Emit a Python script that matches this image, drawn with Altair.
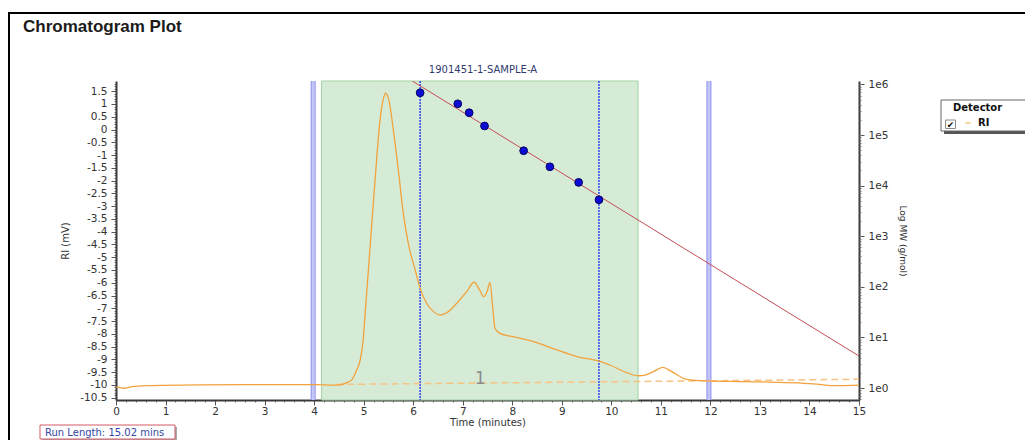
import altair as alt
import pandas as pd

# ---------------- data ----------------
time_min = [0.00, 0.18, 0.32, 0.62, 1.70, 3.04, 4.05, 4.39, 4.52, 4.66, 4.76, 4.84,
            4.93, 4.99, 5.03, 5.13, 5.23, 5.33, 5.40, 5.44, 5.50, 5.60, 5.70, 5.80,
            5.90, 6.04, 6.14, 6.27, 6.41, 6.54, 6.71, 6.88, 7.08, 7.23, 7.34, 7.42,
            7.49, 7.55, 7.61, 7.65, 7.75, 8.02, 8.43, 8.90, 9.30, 9.74, 9.97, 10.31,
            10.54, 10.68, 10.85, 11.04, 11.22, 11.52, 11.93, 12.73, 14.08, 14.48, 15.00]
ri_mv = [-10.09, -10.13, -10.07, -10.03, -10.00, -9.99, -9.99, -10.01, -10.00, -9.91, -9.80, -9.50,
         -9.02, -8.24, -7.19, -4.59, -1.98, 0.37, 1.22, 1.42, 1.22, -0.02, -1.59, -3.28,
         -4.45, -5.50, -6.22, -6.80, -7.13, -7.26, -7.13, -6.80, -6.35, -5.98, -6.28, -6.54,
         -6.35, -5.99, -7.06, -7.78, -7.98, -8.11, -8.30, -8.63, -8.89, -9.06, -9.22, -9.52,
         -9.64, -9.62, -9.48, -9.31, -9.48, -9.78, -9.84, -9.87, -9.96, -10.03, -10.01]
detector = ["RI"]

baseline_t = [4.45, 15.00]
baseline_mv = [-9.98, -9.78]

peak_label = ["1"]
peak_label_t = [7.35]
peak_label_mv = [-9.77]

cal_t = [6.14, 6.90, 7.13, 7.44, 8.23, 8.76, 9.34, 9.75]
cal_mw = [6.85e5, 4.15e5, 2.76e5, 1.51e5, 4.9e4, 2.36e4, 1.16e4, 5.26e3]

fit_t = [5.98, 15.00]
fit_mw = [1.17e6, 4.29]

region_start = [4.15]
region_end = [10.54]
marker_t = [3.98, 11.97]
limit_t = [6.14, 9.75]

x_major = list(range(0, 16))
x_minor = [round(i * 0.2, 1) for i in range(76)]
y_major = [round(-10.5 + 0.5 * i, 1) for i in range(25)]
y_minor = [round(-10.5 + 0.1 * i, 1) for i in range(124)]
mw_major = [10 ** e for e in range(0, 7)]
mw_minor = [k * 10 ** e if e >= 0 else round(k * 10 ** e, 3)
            for e in range(-1, 7) for k in range(1, 10)
            if 0.58 <= k * 10 ** e <= 1.17e6]

chart_title = "Chromatogram Plot"
sample_name = "1901451-1-SAMPLE-A"
run_length = "Run Length: 15.02 mins"

# ---------------- layout ----------------
W, H = 743, 319
FONT = "DejaVu Sans"

xs = alt.Scale(domain=[0, 15], nice=False, zero=False)
ys = alt.Scale(domain=[-10.59, 1.90], nice=False, zero=False)
ms = alt.Scale(type="log", domain=[0.58, 1.17e6], nice=False)

common_axis = dict(grid=False, labelFont=FONT, labelFontSize=10.5, labelColor="#333333",
                   titleFont=FONT, titleFontWeight="normal", titleColor="#333333",
                   domainColor="#3a3a3a", domainWidth=2, tickColor="#555555",
                   labelOverlap=False, labelFlush=False)
minor_axis = dict(grid=False, labels=False, domain=False, tickColor="#777777",
                  tickSize=2, title=None)

x_axis = alt.Axis(values=x_major, orient="bottom", labelExpr="'' + datum.value",
                  tickSize=5, labelPadding=1, title="Time (minutes)", titleFontSize=10,
                  titleY=25, titleBaseline="alphabetic", **common_axis)
x_axis_minor = alt.Axis(values=x_minor, orient="bottom", **minor_axis)

y_axis = alt.Axis(values=y_major, orient="left", labelExpr="'' + datum.value",
                  tickSize=5, labelPadding=4, title="RI (mV)", titleFontSize=10,
                  titlePadding=9, **common_axis)
y_axis_minor = alt.Axis(values=y_minor, orient="left", **minor_axis)

m_axis = alt.Axis(values=mw_major, orient="right",
                  labelExpr="'1e' + round(log(datum.value) / LN10)",
                  tickSize=5, labelPadding=4, title="Log MW (g/mol)", titleFontSize=9,
                  titlePadding=10, **common_axis)
m_axis_minor = alt.Axis(values=mw_minor, orient="right", **minor_axis)

curve_df = pd.DataFrame({"t": time_min, "mv": ri_mv, "det": detector * len(time_min)})
base_df = pd.DataFrame({"t": baseline_t, "mv": baseline_mv})
lab_df = pd.DataFrame({"t": peak_label_t, "mv": peak_label_mv, "lab": peak_label})
cal_df = pd.DataFrame({"t": cal_t, "mw": cal_mw})
fit_df = pd.DataFrame({"t": fit_t, "mw": fit_mw})
reg_df = pd.DataFrame({"s": region_start, "e": region_end})
mark_df = pd.DataFrame({"t": marker_t})
lim_df = pd.DataFrame({"t": limit_t})
one = pd.DataFrame({"k": [0]})

X = alt.X("t:Q", scale=xs, axis=None)

green = alt.Chart(reg_df).mark_rect(fill="#d6ebd6", stroke="#a3d1a3", strokeWidth=1).encode(
    x=alt.X("s:Q", scale=xs, axis=None), x2="e:Q")
lav_outer = alt.Chart(mark_df).mark_rule(color="#8c92ea", strokeWidth=5).encode(x=X)
lav_inner = alt.Chart(mark_df).mark_rule(color="#c3c6f7", strokeWidth=3).encode(x=X)
limits = alt.Chart(lim_df).mark_rule(color="#2438f2", strokeWidth=1.4, strokeDash=[2, 1]).encode(x=X)
dashed = alt.Chart(base_df).mark_line(color="#f6c384", strokeWidth=1.5, strokeDash=[7, 4]).encode(
    x=alt.X("t:Q", scale=xs, axis=x_axis_minor),
    y=alt.Y("mv:Q", scale=ys, axis=y_axis_minor))
curve = alt.Chart(curve_df).mark_line(strokeWidth=1.3, interpolate="monotone").encode(
    x=alt.X("t:Q", scale=xs, axis=x_axis),
    y=alt.Y("mv:Q", scale=ys, axis=y_axis),
    color=alt.Color("det:N", scale=alt.Scale(domain=detector, range=["#f2a23c"]),
                    legend=alt.Legend(orient="none", legendX=837, legendY=22, title="Detector",
                                      titleFont=FONT, titleFontSize=10, titleFontWeight="bold",
                                      titleColor="#111111", titlePadding=5,
                                      labelFont=FONT, labelFontSize=10, labelFontWeight="bold",
                                      labelColor="#111111", symbolType="stroke", symbolSize=25,
                                      symbolOffset=10, labelOffset=5, symbolStrokeWidth=1.5,
                                      symbolOpacity=0.6, padding=0)))
label1 = alt.Chart(lab_df).mark_text(font=FONT, fontSize=17, color="#8c8c8c", baseline="middle").encode(
    x=X, y=alt.Y("mv:Q", scale=ys, axis=None), text="lab:N")


def box(x1, x2, y1, y2, **kw):
    return alt.Chart(one).mark_rect(**kw).encode(
        x=alt.value(x1), x2=alt.value(x2), y=alt.value(y1), y2=alt.value(y2))


def label(text, x, y, **kw):
    return alt.Chart(one).mark_text(text=text, **kw).encode(x=alt.value(x), y=alt.value(y))


frame = box(-107, 940, -68, 430, fillOpacity=0, stroke="#000000", strokeWidth=2)
title_txt = label(chart_title, -93, -49, font="Liberation Sans", fontSize=17, fontWeight="bold",
                  color="#1b1b1b", align="left", baseline="alphabetic")
sample_txt = label(sample_name, 367, -11, font=FONT, fontSize=10, color="#2f3b70",
                   align="center", baseline="middle")
leg_shadow = box(828, 914, 22, 53, fill="#555555")
leg_box = box(825, 911, 19, 50, fill="#ffffff", stroke="#666666", strokeWidth=1)
chk_box = box(829.5, 839.5, 39, 47.5, fill="#ffffff", stroke="#8a8a8a", strokeWidth=1)
chk = label("✔", 834.5, 43.5, font=FONT, fontSize=9, color="#111111", align="center", baseline="middle")
run_shadow = box(-74, 61, 346, 360, fill="#aaaaaa")
run_box = box(-76, 59, 344, 358, fill="#ffffff", stroke="#d45a66", strokeWidth=1)
run_txt = label(run_length, -71, 351.5, font=FONT, fontSize=10, color="#3446a6",
                align="left", baseline="middle")

left = alt.layer(green, lav_outer, lav_inner, limits, dashed, curve, label1,
                 frame, title_txt, sample_txt, leg_shadow, leg_box, chk_box, chk,
                 run_shadow, run_box, run_txt).resolve_axis(x="independent", y="independent")

fit = alt.Chart(fit_df).mark_line(color="#c44d57", strokeWidth=1, clip=True).encode(
    x=X, y=alt.Y("mw:Q", scale=ms, axis=m_axis))
dots = alt.Chart(cal_df).mark_point(filled=True, size=60, fill="#0c0cd4", stroke="#000060",
                                    strokeWidth=1, opacity=1).encode(
    x=X, y=alt.Y("mw:Q", scale=ms, axis=m_axis_minor))
right = alt.layer(fit, dots).resolve_axis(y="independent")

chart = alt.layer(left, right).resolve_scale(y="independent").properties(
    width=W, height=H,
    padding={"left": 108, "top": 73, "right": 166, "bottom": 40},
    autosize=alt.AutoSizeParams(type="none"),
).configure_view(strokeWidth=0)

chart.save("out.html", embed_options={"renderer": "svg", "actions": False})
